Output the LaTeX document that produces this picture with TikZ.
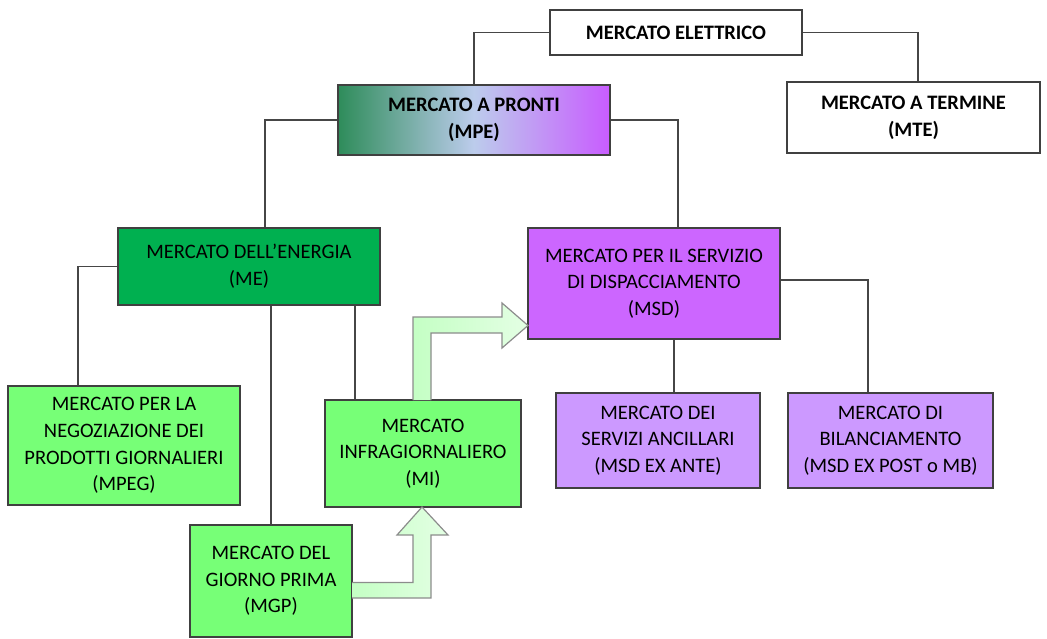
\documentclass[tikz,border=0pt]{standalone}
\usepackage{fontspec}
\setmainfont{Carlito}
\definecolor{bordo}{RGB}{64,64,64}
\definecolor{linea}{RGB}{70,70,70}
\definecolor{mpeA}{RGB}{46,140,90}
\definecolor{mpeB}{RGB}{188,204,236}
\definecolor{mpeC}{RGB}{200,92,255}
\definecolor{verdeME}{RGB}{0,176,80}
\definecolor{violaMSD}{RGB}{204,102,255}
\definecolor{verdechiaro}{RGB}{119,255,119}
\definecolor{violachiaro}{RGB}{204,153,255}
\definecolor{verdinoA}{RGB}{196,255,196}
\definecolor{verdinoB}{RGB}{228,255,228}

\begin{document}
\begin{tikzpicture}[x=0.75pt,y=-0.75pt]
\tikzset{
  boite/.style={draw=bordo, line width=1pt, align=center, inner sep=1pt,
    font=\fontsize{15.4}{20}\selectfont},
  titolo/.style={boite, font=\fontsize{15.4}{20}\selectfont\bfseries},
  ligne/.style={draw=linea, line width=1.1pt},
  freccia/.style={draw=gray!90, line width=0.9pt, left color=verdinoA, right color=verdinoB},
}
\useasboundingbox (0,0) rectangle (1047,639);

% le caselle del mercato
\node[titolo, minimum width=189pt, minimum height=33.75pt] (elettrico) at (676,32.5) {MERCATO ELETTRICO};
\node[titolo, left color=mpeA, right color=mpeC, middle color=mpeB,
  minimum width=204pt, minimum height=52.5pt] (pronti) at (474,120) {MERCATO A PRONTI\\(MPE)};
\node[titolo, minimum width=189.75pt, minimum height=53.25pt] (termine) at (913.5,117.5) {MERCATO A TERMINE\\(MTE)};
\node[boite, fill=verdeME, minimum width=196.5pt, minimum height=57.75pt] (energia) at (249,266.5) {MERCATO DELL’ENERGIA\\(ME)};
\node[boite, fill=violaMSD, minimum width=189pt, minimum height=83.25pt] (dispacc) at (654,283.5) {MERCATO PER IL SERVIZIO\\DI DISPACCIAMENTO\\(MSD)};
\node[boite, fill=verdechiaro, minimum width=174pt, minimum height=89.25pt] (mpeg) at (124,445.5) {MERCATO PER LA\\NEGOZIAZIONE DEI\\PRODOTTI GIORNALIERI\\(MPEG)};
\node[boite, fill=verdechiaro, minimum width=147pt, minimum height=80.25pt] (mi) at (423,453.5) {MERCATO\\INFRAGIORNALIERO\\(MI)};
\node[boite, fill=verdechiaro, minimum width=121.5pt, minimum height=84pt] (mgp) at (271,581) {MERCATO DEL\\GIORNO PRIMA\\(MGP)};
\node[boite, fill=violachiaro, minimum width=153pt, minimum height=71.25pt] (ancillari) at (658,440.5) {MERCATO DEI\\SERVIZI ANCILLARI\\(MSD EX ANTE)};
\node[boite, fill=violachiaro, minimum width=153.75pt, minimum height=71.25pt] (bilanc) at (890.5,440.5) {MERCATO DI\\BILANCIAMENTO\\(MSD EX POST o MB)};

% i collegamenti
\draw[ligne] (elettrico.west) -| (pronti.north);
\draw[ligne] (elettrico.east) -| ([xshift=3.4pt]termine.north);
\draw[ligne] (pronti.west) -| ([xshift=12pt]energia.north);
\draw[ligne] (pronti.east) -| ([xshift=18pt]dispacc.north);
\draw[ligne] (energia.west) -| ([xshift=-34.5pt]mpeg.north);
\draw[ligne] (mgp.north |- energia.south) -- (mgp.north);
\coordinate (miT) at ([xshift=-51pt]mi.north);
\draw[ligne] (miT |- energia.south) -- (miT);
\coordinate (ancT) at ([xshift=12pt]ancillari.north);
\draw[ligne] (ancT |- dispacc.south) -- (ancT);
\draw[ligne] ([yshift=2.6pt]dispacc.east) -| ([xshift=-16.9pt]bilanc.north);

% le frecce larghe
\draw[freccia] (352,582.5) -- (413,582.5) -- (413,535) -- (397,535) -- (422,507)
  -- (448,535) -- (431,535) -- (431,598) -- (352,598);
\draw[freccia] (413,400) -- (413,317) -- (502,317) -- (502,303) -- (528,325.5)
  -- (502,348) -- (502,333) -- (431,333) -- (431,400);
\end{tikzpicture}
\end{document}
